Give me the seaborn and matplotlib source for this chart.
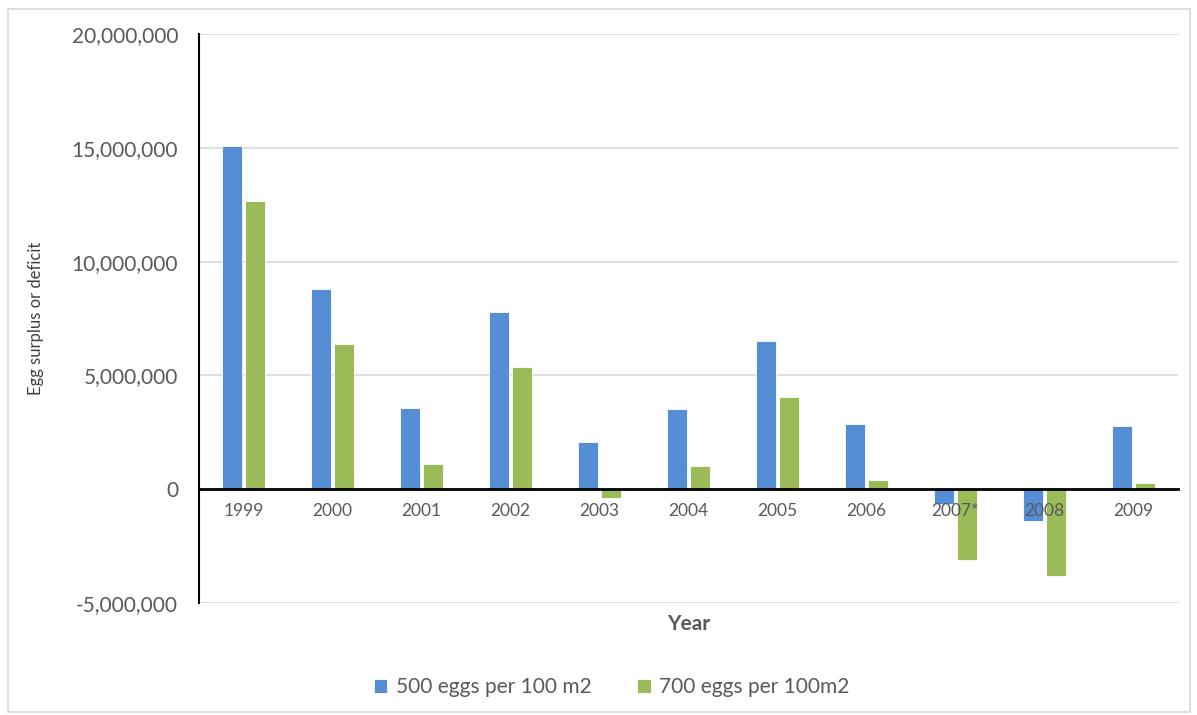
import matplotlib
matplotlib.use("Agg")
import matplotlib.pyplot as plt
from matplotlib.patches import Rectangle
from matplotlib.ticker import FuncFormatter, MultipleLocator
import seaborn as sns
import pandas as pd

years = ["1999", "2000", "2001", "2002", "2003", "2004", "2005", "2006", "2007*", "2008", "2009"]
eggs_500 = [15100000, 8790000, 3590000, 7790000, 2080000, 3510000, 6510000, 2860000, -650000, -1380000, 2760000]
eggs_700 = [12680000, 6380000, 1110000, 5370000, -370000, 1030000, 4050000, 400000, -3130000, -3820000, 290000]
series_names = ["500 eggs per 100 m2", "700 eggs per 100m2"]
colors = ["#558ED5", "#9BBB59"]

df = pd.DataFrame({
    "Year": years * 2,
    "value": eggs_500 + eggs_700,
    "series": [series_names[0]] * len(years) + [series_names[1]] * len(years),
})

sns.set_theme(style="white")
plt.rcParams["font.family"] = ["Lato", "DejaVu Sans"]

fig = plt.figure(figsize=(11.97, 7.15), dpi=100)
ax = fig.add_axes([0.1663, 0.1566, 0.8177, 0.7958])

sns.barplot(data=df, x="Year", y="value", hue="series", order=years,
            hue_order=series_names, palette=colors, width=0.52, gap=0.15,
            edgecolor="white", linewidth=0.6, saturation=1, ax=ax, zorder=3)

ax.set_ylim(-5000000, 20000000)
ax.set_xlim(-0.5, len(years) - 0.5)
ax.yaxis.set_major_locator(MultipleLocator(5000000))
ax.yaxis.set_major_formatter(FuncFormatter(lambda v, p: f"{int(v):,}"))
ax.grid(axis="y", color="#D9D9D9", linewidth=1.2, zorder=0)
ax.set_axisbelow(True)
# year labels sit on the zero line and are drawn over the negative bars
ax.xaxis.set_zorder(5)

for s in ["top", "right"]:
    ax.spines[s].set_visible(False)
ax.spines["left"].set_color("black")
ax.spines["left"].set_linewidth(1.5)
ax.spines["bottom"].set_position(("data", 0))
ax.spines["bottom"].set_color("black")
ax.spines["bottom"].set_linewidth(2)
ax.spines["bottom"].set_zorder(4)

ax.tick_params(axis="x", length=0, pad=10, labelsize=12.5, labelcolor="#595959")
ax.tick_params(axis="y", length=0, pad=15, labelsize=15, labelcolor="#595959")

ax.set_xlabel("Year", fontsize=15, fontweight="bold", color="#595959")
ax.xaxis.set_label_coords(0.5, -0.02)
ax.set_ylabel("Egg surplus or deficit", fontsize=12, color="#404040")
ax.yaxis.set_label_coords(-0.158, 0.5)

handles, labels = ax.get_legend_handles_labels()
ax.legend(handles, labels, loc="center", bbox_to_anchor=(0.511, 0.039),
          bbox_transform=fig.transFigure, ncol=2, frameon=False,
          fontsize=15, handlelength=0.65, handleheight=0.65, columnspacing=2.2,
          handletextpad=0.4, labelcolor="#595959")

fig.patches.append(Rectangle((8 / 1197, 3 / 715), 1182 / 1197, 703 / 715,
                             transform=fig.transFigure, fill=False,
                             edgecolor="#D9D9D9", linewidth=1.2))

fig.savefig("out.png", dpi=100, facecolor="white")
